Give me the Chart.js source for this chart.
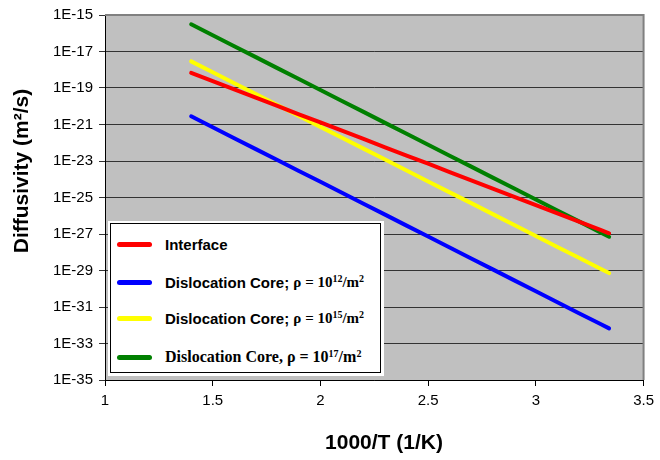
<!DOCTYPE html>
<html>
<head>
<meta charset="utf-8">
<title>Diffusivity vs 1000/T</title>
<script src="https://cdn.jsdelivr.net/npm/chart.js@4.4.0/dist/chart.umd.min.js"></script>
<style>
  html, body { margin: 0; padding: 0; background: #fff; }
  #wrap { position: relative; width: 660px; height: 460px; }
  #legend {
    position: absolute; left: 108px; top: 221px; width: 276px; height: 155px;
    background: #fff; box-sizing: border-box; padding: 2px 3px 3px 2px;
  }
  #legend .frame {
    width: 100%; height: 100%; box-sizing: border-box; border: 1px solid #000;
    position: relative;
  }
  .item { position: absolute; left: 0; height: 20px; display: flex; align-items: center; }
  .swatch { width: 35px; height: 5px; border-radius: 3px; margin-left: 6px; margin-right: 13px; }
  .sans { font: bold 15px "Liberation Sans", Arial, sans-serif; }
  .serif { font: bold 15px "Liberation Serif", "Times New Roman", serif; }
  sup { font-size: 10px; vertical-align: 5px; line-height: 0; }
</style>
</head>
<body>
<div id="wrap">
  <canvas id="chart" width="660" height="460"></canvas>
  <div id="legend"><div class="frame">
    <div class="item" style="top:10px"><span class="swatch" style="background:#FF0000"></span><span class="sans">Interface</span></div>
    <div class="item" style="top:48px"><span class="swatch" style="background:#0000FF"></span><span class="sans">Dislocation Core;&nbsp;</span><span class="serif">ρ = 10<sup>12</sup>/m<sup>2</sup></span></div>
    <div class="item" style="top:84px"><span class="swatch" style="background:#FFFF00"></span><span class="sans">Dislocation Core;&nbsp;</span><span class="serif">ρ = 10<sup>15</sup>/m<sup>2</sup></span></div>
    <div class="item" style="top:123px"><span class="swatch" style="background:#008000"></span><span class="serif" style="font-size:16px">Dislocation Core, ρ = 10<sup>17</sup>/m<sup>2</sup></span></div>
  </div></div>
</div>
<script>
// x values (1000/T)
const invTemp = [1.4, 1.5, 1.6, 1.7, 1.8, 1.9, 2.0, 2.1, 2.2, 2.3, 2.4,
  2.5, 2.6, 2.7, 2.8, 2.9, 3.0, 3.1, 3.2, 3.3, 3.34];

// log10 of diffusivity (m2/s)
const interfaceLog = [-18.17, -18.62, -19.08, -19.53, -19.98, -20.44, -20.89, -21.34, -21.79, -22.25, -22.70,
  -23.15, -23.61, -24.06, -24.51, -24.97, -25.42, -25.87, -26.32, -26.78, -26.96];
const core12Log = [-20.55, -21.15, -21.75, -22.35, -22.95, -23.55, -24.14, -24.74, -25.34, -25.94, -26.54,
  -27.14, -27.74, -28.34, -28.94, -29.54, -30.14, -30.74, -31.34, -31.93, -32.17];
const core15Log = [-17.54, -18.14, -18.74, -19.33, -19.93, -20.53, -21.13, -21.73, -22.32, -22.92, -23.52,
  -24.12, -24.72, -25.31, -25.91, -26.51, -27.11, -27.71, -28.30, -28.90, -29.14];
const core17Log = [-15.51, -16.11, -16.71, -17.31, -17.91, -18.51, -19.11, -19.71, -20.31, -20.91, -21.51,
  -22.11, -22.71, -23.31, -23.91, -24.51, -25.11, -25.71, -26.31, -26.91, -27.15];

// axis ticks
const xTicks = [1, 1.5, 2, 2.5, 3, 3.5];
const xTickLabels = ["1", "1.5", "2", "2.5", "3", "3.5"];
const yTicks = [1e-35, 1e-33, 1e-31, 1e-29, 1e-27, 1e-25, 1e-23, 1e-21, 1e-19, 1e-17, 1e-15];
const yTickLabels = ["1E-35", "1E-33", "1E-31", "1E-29", "1E-27", "1E-25", "1E-23", "1E-21", "1E-19", "1E-17", "1E-15"];

function toPoints(logs) {
  return invTemp.map(function (x, i) {
    return { x: x, y: Math.pow(10, logs[i]) };
  });
}

function series(label, logs, color) {
  return {
    label: label,
    data: toPoints(logs),
    borderColor: color,
    backgroundColor: color,
    borderWidth: 4,
    borderCapStyle: "round",
    borderJoinStyle: "round",
    pointRadius: 0,
    tension: 0,
    fill: false,
  };
}

// gray plot background + frame, and the axis titles
const plotDecor = {
  id: "plotDecor",
  beforeDraw: function (chart) {
    const a = chart.chartArea;
    const ctx = chart.ctx;
    ctx.save();
    ctx.fillStyle = "#C0C0C0";
    ctx.fillRect(a.left, a.top, a.right - a.left, a.bottom - a.top);
    ctx.restore();
  },
  afterDraw: function (chart) {
    const a = chart.chartArea;
    const ctx = chart.ctx;
    ctx.save();
    ctx.strokeStyle = "#808080";
    ctx.lineWidth = 2;
    ctx.beginPath();
    ctx.moveTo(a.left, a.top);
    ctx.lineTo(a.right, a.top);
    ctx.lineTo(a.right, a.bottom);
    ctx.stroke();

    ctx.fillStyle = "#000";
    ctx.font = 'bold 21px "Liberation Sans", Arial, sans-serif';
    ctx.textAlign = "center";
    ctx.textBaseline = "middle";
    ctx.fillText("1000/T (1/K)", 384, 443);
    ctx.translate(22, 171);
    ctx.rotate(-Math.PI / 2);
    ctx.fillText("Diffusivity (m²/s)", 0, 0);
    ctx.restore();
  },
};

const ctx = document.getElementById("chart");

new Chart(ctx, {
  type: "line",
  data: {
    datasets: [
      series("Interface", interfaceLog, "#FF0000"),
      series("Dislocation Core; ρ = 10^12/m^2", core12Log, "#0000FF"),
      series("Dislocation Core; ρ = 10^15/m^2", core15Log, "#FFFF00"),
      series("Dislocation Core, ρ = 10^17/m^2", core17Log, "#008000"),
    ],
  },
  options: {
    responsive: false,
    animation: false,
    layout: { padding: { top: 15, right: 13, left: 0, bottom: 0 } },
    plugins: {
      legend: { display: false },
      tooltip: { enabled: false },
    },
    scales: {
      x: {
        type: "linear",
        min: 1,
        max: 3.5,
        afterBuildTicks: function (scale) {
          scale.ticks = xTicks.map(function (v) { return { value: v }; });
        },
        afterFit: function (scale) { scale.height = 80; },
        ticks: {
          color: "#000",
          padding: 6,
          font: { family: '"Liberation Sans", Arial, sans-serif', size: 15 },
          callback: function (value, index) { return xTickLabels[index]; },
        },
        grid: { drawOnChartArea: false, color: "#000", tickLength: 6 },
        border: { color: "#000", width: 1 },
      },
      y: {
        type: "logarithmic",
        min: 1e-35,
        max: 1e-15,
        afterBuildTicks: function (scale) {
          scale.ticks = yTicks.map(function (v) { return { value: v }; });
        },
        afterFit: function (scale) { scale.width = 105; },
        ticks: {
          color: "#000",
          padding: 6,
          font: { family: '"Liberation Sans", Arial, sans-serif', size: 15 },
          callback: function (value, index) { return yTickLabels[index]; },
        },
        grid: { color: "#333", tickLength: 6 },
        border: { color: "#000", width: 1 },
      },
    },
  },
  plugins: [plotDecor],
});
</script>
</body>
</html>
